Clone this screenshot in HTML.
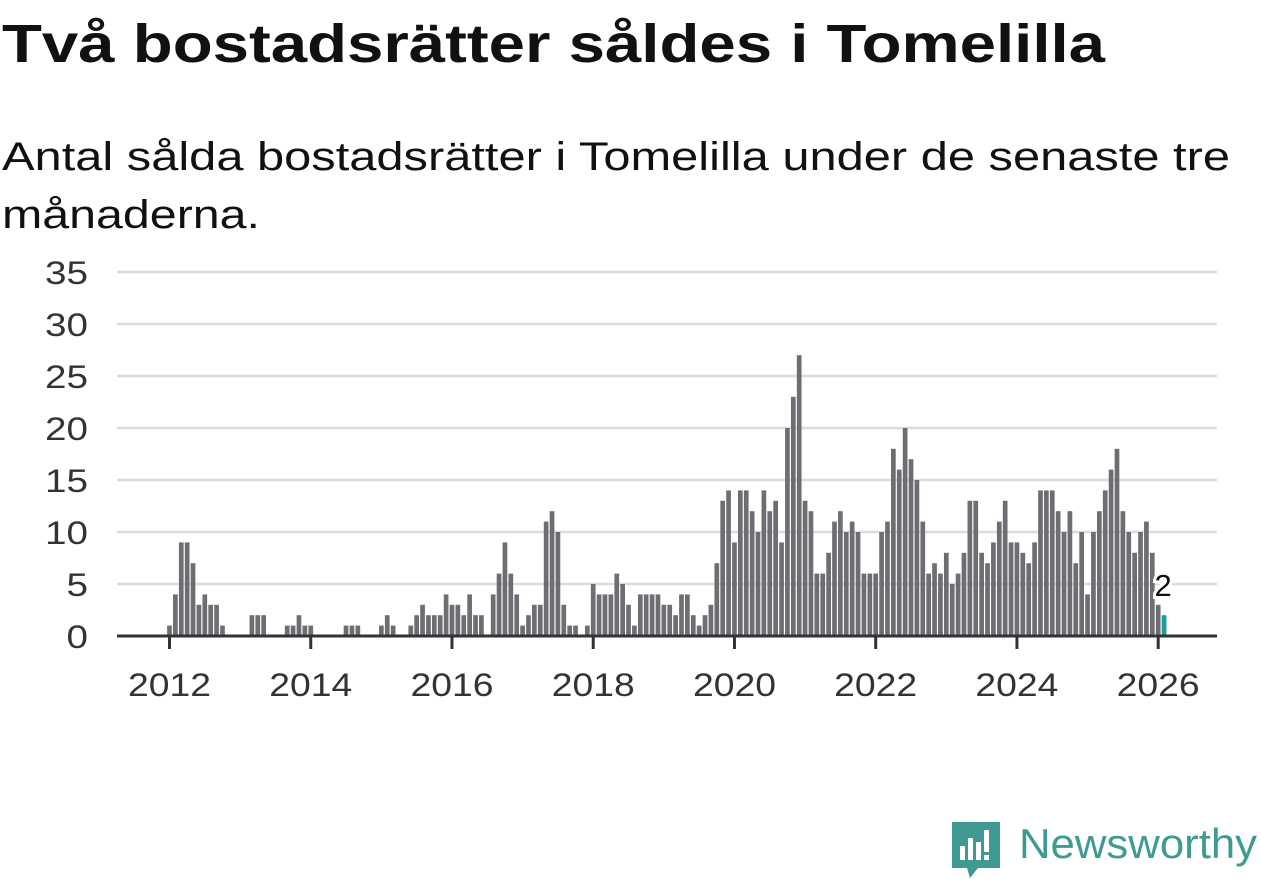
<!DOCTYPE html>
<html><head><meta charset="utf-8"><style>
html,body{margin:0;padding:0;background:#fff;width:1262px;height:879px;overflow:hidden}
svg text{font-family:"Liberation Sans",sans-serif}
</style></head><body>
<svg id="chart" width="1262" height="879" viewBox="0 0 1262 879" xmlns="http://www.w3.org/2000/svg">
<text x="2" y="62" font-size="54" font-weight="bold" fill="#111" textLength="1103" lengthAdjust="spacingAndGlyphs">Två bostadsrätter såldes i Tomelilla</text>
<text x="2" y="170" font-size="40" fill="#111" textLength="1228" lengthAdjust="spacingAndGlyphs">Antal sålda bostadsrätter i Tomelilla under de senaste tre</text>
<text x="2" y="228" font-size="40" fill="#111" textLength="258" lengthAdjust="spacingAndGlyphs">månaderna.</text>
<g id="grid"></g>
<g id="ylabels"></g>
<g id="bars"></g>
<g id="xaxis"></g>
<g id="annot"></g>
<g>
<path d="M952 822 h48 v46 h-22 l-8 10 l-3 -10 h-15 z" fill="#3f9a92"/>
<rect x="960" y="846" width="5" height="14" fill="#fff"/>
<rect x="968" y="838" width="5" height="22" fill="#fff"/>
<rect x="976" y="842" width="5" height="18" fill="#fff"/>
<rect x="984" y="830" width="5" height="22" fill="#fff"/>
<rect x="984" y="855" width="5" height="5" fill="#fff"/>
<text x="1019" y="858" font-size="42" fill="#3f9a92" textLength="238" lengthAdjust="spacingAndGlyphs">Newsworthy</text>
</g>
</svg>
<script>
const values2012 = [1,4,9,9,7,3,4,3,3,1,0,0];
const values2013 = [0,0,2,2,2,0,0,0,1,1,2,1];
const values2014 = [1,0,0,0,0,0,1,1,1,0,0,0];
const values2015 = [1,2,1,0,0,1,2,3,2,2,2,4];
const values2016 = [3,3,2,4,2,2,0,4,6,9,6,4];
const values2017 = [1,2,3,3,11,12,10,3,1,1,0,1];
const values2018 = [5,4,4,4,6,5,3,1,4,4,4,4];
const values2019 = [3,3,2,4,4,2,1,2,3,7,13,14];
const values2020 = [9,14,14,12,10,14,12,13,9,20,23,27];
const values2021 = [13,12,6,6,8,11,12,10,11,10,6,6];
const values2022 = [6,10,11,18,16,20,17,15,11,6,7,6];
const values2023 = [8,5,6,8,13,13,8,7,9,11,13,9];
const values2024 = [9,8,7,9,14,14,14,12,10,12,7,10];
const values2025 = [4,10,12,14,16,18,12,10,8,10,11,8];
const values2026 = [3,2];
const yTicks = [0,5,10,15,20,25,30,35];
const xTickYears = [2012,2014,2016,2018,2020,2022,2024,2026];
const startYear = 2012;

const values = [].concat(values2012,values2013,values2014,values2015,values2016,values2017,values2018,values2019,values2020,values2021,values2022,values2023,values2024,values2025,values2026);
const NS='http://www.w3.org/2000/svg';
const y0=636, yPerUnit=10.4, xLeft=117, xRight=1217;
const x0=169.5, mw=5.885, bw=4.7;
const yS = v => y0 - v*yPerUnit;
const xS = k => x0 + k*mw;
function mk(tag, attrs){const e=document.createElementNS(NS,tag);for(const k in attrs)e.setAttribute(k,attrs[k]);return e;}
const grid=document.getElementById('grid'), yl=document.getElementById('ylabels');
yTicks.forEach(t=>{
  if(t>0){const l=mk('line',{x1:xLeft,x2:xRight,y1:yS(t),y2:yS(t),stroke:'#dcdcdc','stroke-width':2.5});
  
  
  grid.appendChild(l);}
  const s=String(t);
  const tx=mk('text',{x:88,y:yS(t)+12,'font-size':32,fill:'#333','text-anchor':'end',textLength:s.length*21.5,lengthAdjust:'spacingAndGlyphs'});
  tx.textContent=t;
  
  
  yl.appendChild(tx);
});
const bars=document.getElementById('bars');
values.forEach((v,k)=>{
  if(v<=0) return;
  const last = k===values.length-1;
  const r=mk('rect',{x:xS(k)-bw/2,y:yS(v),width:bw,height:v*yPerUnit,fill:last?'#1a9e96':'#6e6d73'});
  
  
  bars.appendChild(r);
});
const xa=document.getElementById('xaxis');
const base=mk('line',{x1:xLeft,x2:xRight,y1:y0,y2:y0,stroke:'#333','stroke-width':3});


xa.appendChild(base);
xTickYears.forEach(yr=>{
  const x=xS((yr-startYear)*12);
  const t=mk('line',{x1:x,x2:x,y1:y0,y2:y0+13,stroke:'#333','stroke-width':3});
  
  
  xa.appendChild(t);
  const tx=mk('text',{x:x,y:696,'font-size':32,fill:'#333','text-anchor':'middle',textLength:83,lengthAdjust:'spacingAndGlyphs'});
  tx.textContent=yr;
  
  
  xa.appendChild(tx);
});
const an=document.getElementById('annot');
const lk=values.length-1;
const lab=mk('text',{x:xS(lk)-1,y:596,'font-size':31,fill:'#111','text-anchor':'middle',stroke:'#fff','stroke-width':6,'paint-order':'stroke'});
lab.textContent=values[lk];


an.appendChild(lab);
</script>
</body></html>
